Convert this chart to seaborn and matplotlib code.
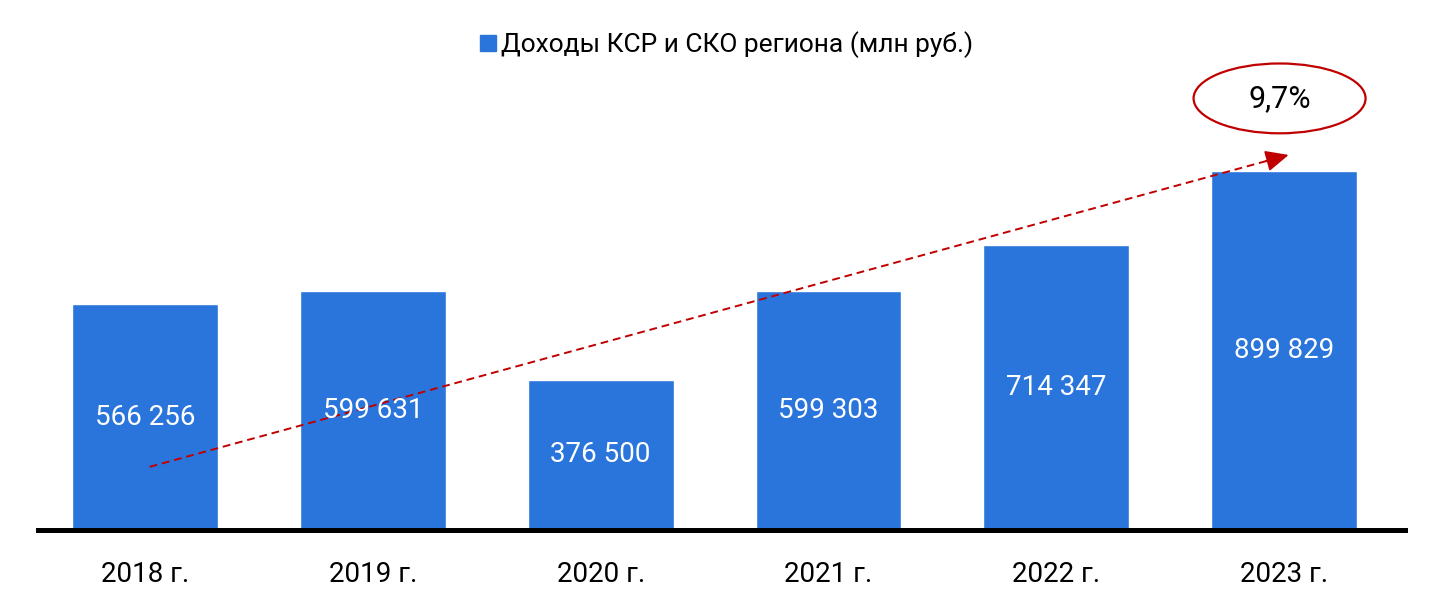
import numpy as np
import pandas as pd
import matplotlib
matplotlib.use("Agg")
import matplotlib.pyplot as plt
from matplotlib.patches import Ellipse
import seaborn as sns

# Data
years = ['2018 г.', '2019 г.', '2020 г.', '2021 г.', '2022 г.', '2023 г.']
incomes = [566256, 599631, 376500, 599303, 714347, 899829]
series_name = 'Доходы КСР и СКО региона (млн руб.)'

df = pd.DataFrame({'year': years, 'income': incomes})

# growth rate over the period (CAGR)
n_periods = len(incomes) - 1
cagr = (incomes[-1] / incomes[0]) ** (1 / n_periods) - 1
cagr_label = f'{cagr * 100:.1f}%'.replace('.', ',')

sns.set_style("white")
plt.rcParams['font.family'] = ['Roboto', 'DejaVu Sans']
plt.rcParams['text.color'] = 'black'

bar_color = '#2A75DB'
red = '#C00000'

fig = plt.figure(figsize=(14.35, 6.01), dpi=100)
ax = fig.add_axes([0.0265, 0.118, 0.9525, 0.782])

sns.barplot(data=df, x='year', y='income', color=bar_color, width=0.64,
            saturation=1, ax=ax)

ax.set_xlim(-0.47, len(years) - 0.47)
ax.set_ylim(0, 1178000)

# value labels inside bars
ax.bar_label(ax.containers[0],
             labels=[f'{v:,}'.replace(',', ' ') for v in incomes],
             label_type='center', color='white', fontsize=20)

# trend arrow: dashed shaft + solid head
x0, y0 = 0.02, incomes[0] * 0.28
x1, y1 = len(years) - 1 + 0.02, incomes[-1] * 1.045
ax.plot([x0, x1 - 0.06], [y0, y1 - (y1 - y0) * 0.06 / (x1 - x0)],
        color=red, lw=1.4, linestyle=(0, (4, 2.5)))
ax.annotate('', xy=(x1, y1), xytext=(x1 - 0.1, y1 - (y1 - y0) * 0.1 / (x1 - x0)),
            arrowprops=dict(arrowstyle='-|>,head_length=0.5,head_width=0.23',
                            color=red, lw=1.4, mutation_scale=28,
                            shrinkA=0, shrinkB=0))

# growth label in an ellipse
ex, ey = len(years) - 1 - 0.02, 1082000
ax.add_patch(Ellipse((ex, ey), width=0.755, height=175000, facecolor='white',
                     edgecolor=red, lw=1.6, clip_on=False))
ax.text(ex, ey, cagr_label, ha='center', va='center', fontsize=22, color='black')

# axes styling
for side in ['top', 'left', 'right']:
    ax.spines[side].set_visible(False)
ax.spines['bottom'].set_linewidth(3.6)
ax.spines['bottom'].set_color('black')
ax.set_yticks([])
ax.set_xlabel('')
ax.set_ylabel('')
ax.tick_params(axis='x', length=0, pad=22, labelsize=20, colors='black')

handle = plt.Line2D([], [], marker='s', color=bar_color, linestyle='',
                    markersize=11.5)
fig.legend([handle], [series_name], loc='center', bbox_to_anchor=(0.506, 0.925),
           frameon=False, fontsize=19, handletextpad=0.15, handlelength=0.7,
           labelcolor='black')

fig.savefig('out.png', dpi=100)
